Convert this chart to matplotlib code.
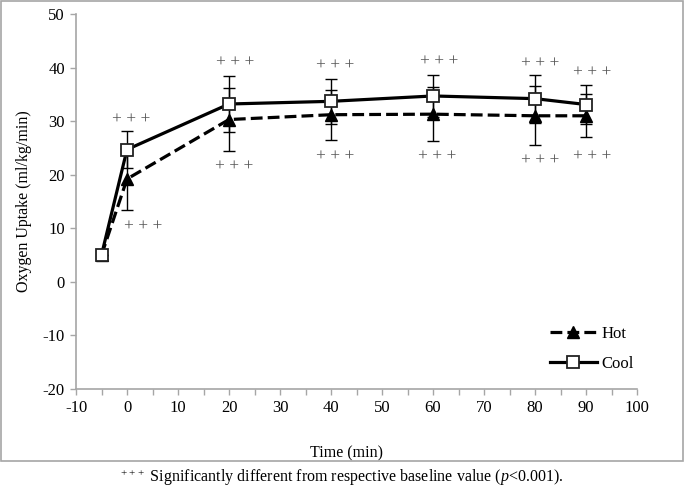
import matplotlib
matplotlib.use("Agg")
import matplotlib.pyplot as plt
from matplotlib.patches import Rectangle

plt.rcParams['font.family'] = ['Liberation Serif', 'DejaVu Serif']
plt.rcParams['mathtext.fontset'] = 'custom'
plt.rcParams['mathtext.rm'] = 'Liberation Serif'
plt.rcParams['mathtext.it'] = 'Liberation Serif:italic'
plt.rcParams['axes.unicode_minus'] = False

# data
time = [-5, 0, 20, 40, 60, 80, 90]
hot = [5.0, 19.2, 30.3, 31.2, 31.3, 31.0, 31.0]
hot_sd = [0.0, 5.7, 5.8, 4.7, 5.1, 5.5, 4.0]
cool = [5.0, 24.7, 33.2, 33.7, 34.7, 34.2, 33.1]
cool_sd = [0.0, 3.5, 5.2, 4.2, 3.9, 4.5, 3.7]

# "+++" marks: (x, y) in data units
sig_top_x = [0.9, 21.2, 40.8, 61.2, 81.0, 91.2]
sig_top_y = [30.4, 41.0, 40.4, 41.2, 40.9, 39.2]
sig_bot_x = [3.2, 21.0, 40.8, 60.8, 81.1, 91.2]
sig_bot_y = [10.5, 21.7, 23.5, 23.4, 22.8, 23.5]

fig = plt.figure(figsize=(6.85, 4.88), dpi=100)
ax = fig.add_axes([76/685, 1-389/488, (637-76)/685, (389-14)/488])

ax.errorbar(time, hot, yerr=hot_sd, fmt='none', ecolor='black', elinewidth=1,
            capsize=4, capthick=1, zorder=2)
ax.errorbar(time, cool, yerr=cool_sd, fmt='none', ecolor='black', elinewidth=1,
            capsize=4, capthick=1, zorder=2)
h_hot, = ax.plot(time, hot, color='black', lw=2.3, ls='--', marker='^',
                 markersize=8.5, markerfacecolor='black', label='Hot', zorder=3)
h_cool, = ax.plot(time, cool, color='black', lw=2.3, ls='-', marker='s',
                  markersize=8.5, markerfacecolor='white', markeredgecolor='#222222',
                  markeredgewidth=1.3, label='Cool', zorder=4)

for x, y in zip(sig_top_x, sig_top_y):
    ax.text(x, y, '+ + +', ha='center', va='center', fontsize=12.5, color='#555555')
for x, y in zip(sig_bot_x, sig_bot_y):
    ax.text(x, y, '+ + +', ha='center', va='center', fontsize=12.5, color='#555555')

ax.set_xlim(-10, 100)
ax.set_ylim(-20, 50)
ax.set_xticks(range(-10, 101, 10))
ax.set_xticks(range(-5, 100, 10), minor=True)
ax.set_yticks(range(-20, 51, 10))
for s in ['top', 'right']:
    ax.spines[s].set_visible(False)
for s in ['left', 'bottom']:
    ax.spines[s].set_color('#a6a6a6')
    ax.spines[s].set_linewidth(1.2)
ax.tick_params(which='both', direction='out', color='#a6a6a6', length=4, width=1,
               labelsize=12, pad=4)
ax.set_xlabel('Time (min)', fontsize=11.5, labelpad=10)
ax.set_ylabel('Oxygen Uptake (ml/kg/min)', fontsize=11.5, labelpad=8)
ax.xaxis.set_label_coords((347-76)/(637-76), -(445-389)/(389-14))

leg = ax.legend(handles=[h_hot, h_cool], loc='upper left',
                bbox_to_anchor=((535-76)/(637-76), 1-(311-14)/(389-14)),
                frameon=False, fontsize=12, handlelength=2.8, handletextpad=0.3,
                labelspacing=0.85)

fig.patches.append(Rectangle((1/685, 1-461/488), 682/685, 460/488,
                             transform=fig.transFigure, fill=False,
                             edgecolor='#a6a6a6', lw=1.2))
fig.text(342/685, 1-478/488,
         r'$^{+++}$ Significantly different from respective baseline value ($\it{p}$<0.001).',
         ha='center', va='center', fontsize=11.5)

fig.savefig('out.png', dpi=100)
